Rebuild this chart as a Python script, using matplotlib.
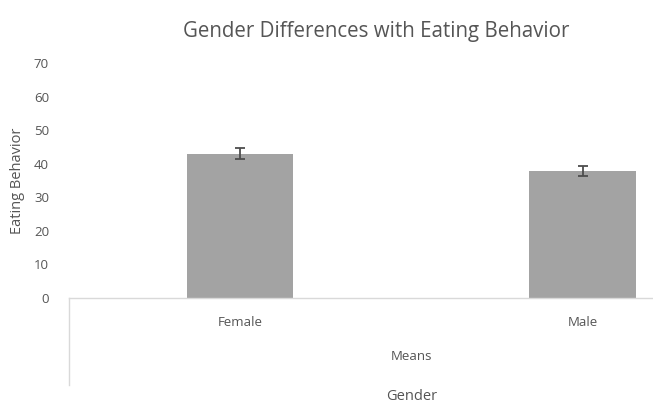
import matplotlib
matplotlib.use("Agg")
import matplotlib.pyplot as plt

plt.rcParams['font.family'] = ['Open Sans', 'DejaVu Sans']

# Data
genders = ['Female', 'Male']
means = [43.0, 37.8]
errors = [1.6, 1.4]
y_ticks = [0, 10, 20, 30, 40, 50, 60, 70]

text_color = '#555555'
bar_color = '#a3a3a3'
line_color = '#d9d9d9'

fig = plt.figure(figsize=(6.53, 4.07), dpi=100)
# plot area runs past the right edge (the original is cropped there)
ax = fig.add_axes([68.5 / 653, 1 - 298 / 407, 685.5 / 653, 235 / 407])

x = range(len(genders))
ax.bar(x, means, width=0.31, color=bar_color, zorder=2)
ax.errorbar(x, means, yerr=errors, fmt='none', ecolor='#4d4d4d',
            elinewidth=1.3, capsize=3.5, capthick=1.3, zorder=3)

ax.set_xlim(-0.5, 1.5)
ax.set_ylim(0, 70)
ax.set_yticks(y_ticks)
ax.tick_params(axis='y', length=0, pad=14, labelsize=9.5, labelcolor=text_color)
ax.tick_params(axis='x', length=0, pad=13, labelsize=9.5, labelcolor=text_color)
ax.set_xticks(list(x))
ax.set_xticklabels(genders)

for side in ['top', 'right', 'left']:
    ax.spines[side].set_visible(False)
ax.spines['bottom'].set_color(line_color)
ax.spines['bottom'].set_linewidth(1.0)

# left divider of the two-level category axis
ax.plot([-0.5, -0.5], [0, -26], color=line_color, lw=1.0, clip_on=False)
ax.text(0.5, -59 / 235, 'Means', transform=ax.transAxes, ha='center', va='center',
        fontsize=9.5, color=text_color)

ax.set_xlabel('Gender', fontsize=10.5, color=text_color)
ax.xaxis.label.set_va('center')
ax.xaxis.set_label_coords(0.5, -98 / 235)
ax.set_ylabel('Eating Behavior', fontsize=10.5, color=text_color)
ax.yaxis.label.set_va('center')
ax.yaxis.set_label_coords(-51 / 685.5, 0.5)

fig.text(376 / 653, 1 - 32 / 407, 'Gender Differences with Eating Behavior',
         ha='center', va='center', fontsize=14.8, color=text_color)

fig.savefig('out.png', dpi=100)
